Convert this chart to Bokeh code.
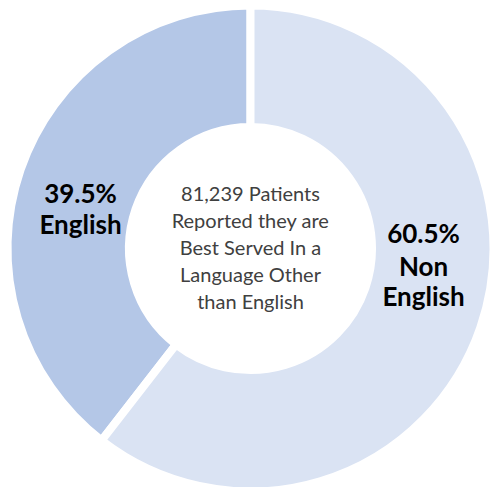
import math
from bokeh.plotting import figure
from bokeh.models import Range1d, ColumnDataSource
from bokeh.core.properties import value
from bokeh.embed import file_html
from bokeh.resources import INLINE

# ---- data ----
categories = ["English", "Non English"]
percents = [39.5, 60.5]
colors = ["#b4c7e7", "#dae3f3"]
center_lines = ["81,239 Patients", "Reported they are", "Best Served In a",
                "Language Other", "than English"]
left_label = ["39.5%", "English"]
right_label = ["60.5%", "Non", "English"]

# ---- wedge angles computed from data ----
starts, ends = [], []
a = math.pi / 2
for pct in percents:
    starts.append(a)
    a = a + 2 * math.pi * pct / 100.0
    ends.append(a)

src = ColumnDataSource(dict(cat=categories, pct=percents, color=colors,
                            start=starts, end=ends))

p = figure(width=490, height=487, output_backend="svg", toolbar_location=None,
           x_range=Range1d(-250, 240), y_range=Range1d(-239, 248),
           min_border=0)
p.axis.visible = False
p.grid.visible = False
p.outline_line_color = None
p.background_fill_color = "white"
p.border_fill_color = "white"

p.annular_wedge(x=0, y=0, inner_radius=121.5, outer_radius=243,
                start_angle="start", end_angle="end", direction="anticlock",
                fill_color="color", line_color="white", line_width=8,
                source=src)

font = value("Lato")
# center text
cy0, step = 56, 27
p.text(x=[0] * len(center_lines), y=[cy0 - i * step for i in range(len(center_lines))],
       text=center_lines, text_font=font, text_font_size="20px",
       text_color="#404040", text_align="center", text_baseline="middle")

# left label
p.text(x=[-170] * 2, y=[56, 25], text=left_label, text_font=font,
       text_font_size="26px", text_font_style="bold", text_color="black",
       text_align="center", text_baseline="middle")
# right label
p.text(x=[173] * 3, y=[16, -17, -47], text=right_label, text_font=font,
       text_font_size="26px", text_font_style="bold", text_color="black",
       text_align="center", text_baseline="middle")

open("out.html", "w").write(file_html(p, INLINE))
